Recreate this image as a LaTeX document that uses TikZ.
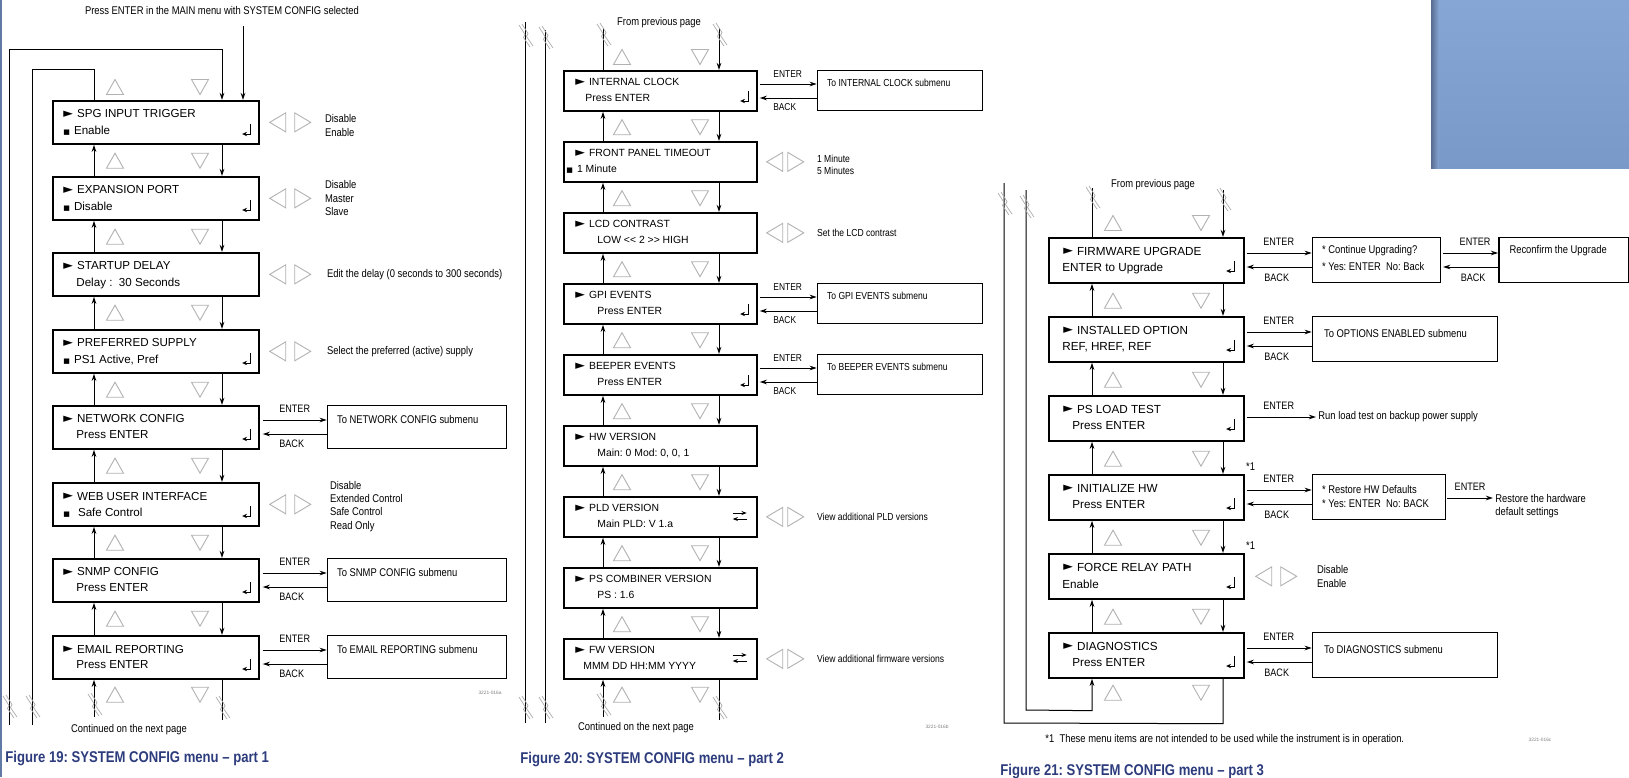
\documentclass[tikz,border=0pt]{standalone}
\usepackage{fontspec}
\setmainfont{Liberation Sans}
\newfontfamily\nar[FakeStretch=0.84]{Liberation Sans}
\newfontfamily\capf[FakeStretch=0.84]{Liberation Sans}
\newfontfamily\symf{DejaVu Sans}
\usetikzlibrary{arrows.meta}
\frenchspacing
\definecolor{capblue}{RGB}{45,60,125}
\definecolor{paneltop}{RGB}{134,166,213}
\definecolor{panelbot}{RGB}{121,154,201}
\definecolor{paneledge}{RGB}{88,108,145}
\definecolor{edgeblue}{RGB}{96,122,165}
\newcommand\ttl[1]{\raisebox{0.2pt}{\symf\fontsize{6.3}{6}\selectfont ►}\hspace{2pt}#1}
\newcommand\sq{{\symf\fontsize{3.5}{5}\selectfont ■}\hspace{2pt}}
\tikzset{
  mbox/.style={draw, line width=0.85pt, inner sep=0pt, anchor=north west},
  boxA/.style={mbox, minimum width=103pt, minimum height=21.5pt},
  boxB/.style={mbox, minimum width=96.5pt, minimum height=20pt},
  boxC/.style={mbox, minimum width=97.5pt, minimum height=22.5pt},
  tA/.style={font=\fontsize{5.8}{7}\selectfont, inner sep=0pt, anchor=west},
  tB/.style={font=\fontsize{5.2}{6}\selectfont, inner sep=0pt, anchor=west},
  tC/.style={font=\fontsize{5.85}{7}\selectfont, inner sep=0pt, anchor=west},
  oA/.style={font=\nar\fontsize{5.6}{6.7}\selectfont, inner sep=0pt, anchor=west, align=left},
  oB/.style={font=\nar\fontsize{5.1}{6}\selectfont, inner sep=0pt, anchor=west, align=left},
  lbA/.style={font=\nar\fontsize{5.4}{6}\selectfont, inner sep=0pt},
  lbB/.style={font=\nar\fontsize{5.0}{6}\selectfont, inner sep=0pt},
  cn/.style={line width=0.5pt},
  ar/.style={cn, -{Stealth[length=3.6pt,width=2.3pt]}},
  tri/.style={draw=gray!60, line width=0.45pt},
  brk/.style={draw=gray!65, line width=0.35pt},
  capt/.style={font=\capf\bfseries\fontsize{7.8}{8}\selectfont, text=capblue, inner sep=0pt, anchor=west},
  tiny/.style={font=\fontsize{2.4}{3}\selectfont, text=gray, inner sep=0pt},
  pup/.pic={\draw[tri] (-8.5,7.5) -- (8.5,7.5) -- (0,-7.5) -- cycle;},
  pdn/.pic={\draw[tri] (-8.5,-7.5) -- (8.5,-7.5) -- (0,7.5) -- cycle;},
  plt/.pic={\draw[tri] (8,-9.5) -- (8,9.5) -- (-8,0) -- cycle;},
  prt/.pic={\draw[tri] (-8,-9.5) -- (-8,9.5) -- (8,0) -- cycle;},
  pret/.pic={\draw[line width=0.45pt, -{Stealth[length=2.4pt,width=2.2pt]}] (3.5,-7) -- (3.5,3) -- (-4.5,3);},
  pswap/.pic={\draw[line width=0.5pt,-{Stealth[length=2.6pt,width=2pt]}] (-7,-3) -- (7,-3);
              \draw[line width=0.5pt,-{Stealth[length=2.6pt,width=2pt]}] (7,3) -- (-7,3);},
  pbrk/.pic={\draw[brk] (-6,-11) -- (0,-1.5) -- (-1.5,1.5) -- (5,11);
             \draw[brk] (-3,-12) -- (3,-2.5) -- (1.5,0.5) -- (8,10);},
}
\begin{document}
\begin{tikzpicture}[x=0.5pt,y=-0.5pt]
\useasboundingbox (0,0) rectangle (1629,777);
\fill[white] (0,0) rectangle (1629,777);
% decorations
\fill[top color=paneltop, bottom color=panelbot] (1431,0) rectangle (1629,168);
\fill[left color=paneledge, right color=paneltop] (1431,0) rectangle (1439,168);
\draw[edgeblue, line width=1pt] (1,0) -- (1,777);

%================ PART 1 =================
\node[oA] (Atop) at (222,10) [anchor=center] {Press ENTER in the MAIN menu with SYSTEM CONFIG selected};
\node[boxA] (A0) at (52,100) {};
\node[boxA] (A1) at (52,176) {};
\node[boxA] (A2) at (52,252) {};
\node[boxA] (A3) at (52,329) {};
\node[boxA] (A4) at (52,405) {};
\node[boxA] (A5) at (52,482) {};
\node[boxA] (A6) at (52,558) {};
\node[boxA] (A7) at (52,635) {};

\node[tA] (A0a) at ([shift={(11,14)}]A0.north west) {\ttl{SPG INPUT TRIGGER}};
\node[tA] (A0b) at ([shift={(11,31)}]A0.north west) {\sq Enable};
\node[tA] (A1a) at ([shift={(11,14)}]A1.north west) {\ttl{EXPANSION PORT}};
\node[tA] (A1b) at ([shift={(11,31)}]A1.north west) {\sq Disable};
\node[tA] (A2a) at ([shift={(11,14)}]A2.north west) {\ttl{STARTUP DELAY}};
\node[tA] (A2b) at ([shift={(24,31)}]A2.north west) {Delay :\ \ 30 Seconds};
\node[tA] (A3a) at ([shift={(11,14)}]A3.north west) {\ttl{PREFERRED SUPPLY}};
\node[tA] (A3b) at ([shift={(11,31)}]A3.north west) {\sq PS1 Active, Pref};
\node[tA] (A4a) at ([shift={(11,14)}]A4.north west) {\ttl{NETWORK CONFIG}};
\node[tA] (A4b) at ([shift={(24,30)}]A4.north west) {Press ENTER};
\node[tA] (A5a) at ([shift={(11,14)}]A5.north west) {\ttl{WEB USER INTERFACE}};
\node[tA] (A5b) at ([shift={(11,31)}]A5.north west) {\sq\hspace{2pt}Safe Control};
\node[tA] (A6a) at ([shift={(11,14)}]A6.north west) {\ttl{SNMP CONFIG}};
\node[tA] (A6b) at ([shift={(24,30)}]A6.north west) {Press ENTER};
\node[tA] (A7a) at ([shift={(11,14)}]A7.north west) {\ttl{EMAIL REPORTING}};
\node[tA] (A7b) at ([shift={(24,30)}]A7.north west) {Press ENTER};

\foreach \b in {A0,A1,A3,A4,A5,A6,A7} {\pic at ([shift={(-13,31)}]\b.north east) {pret};}
\foreach \b in {A0,A1,A2,A3,A5} {
  \pic at ([shift={(18,0)}]\b.east) {plt};
  \pic at ([shift={(43,0)}]\b.east) {prt};
}
\node[oA] (A0o) at ([shift={(65,3)}]A0.east) {Disable\\Enable};
\node[oA] (A1o) at ([shift={(65,0)}]A1.east) {Disable\\Master\\Slave};
\node[oA] (A2o) at ([shift={(67,0)}]A2.east) {Edit the delay (0 seconds to 300 seconds)};
\node[oA] (A3o) at ([shift={(67,0)}]A3.east) {Select the preferred (active) supply};
\node[oA] (A5o) at ([shift={(70,2)}]A5.east) {Disable\\Extended Control\\Safe Control\\Read Only};

\foreach \b/\s in {A4/To NETWORK CONFIG submenu, A6/To SNMP CONFIG submenu, A7/To EMAIL REPORTING submenu} {
  \node[mbox, line width=0.7pt, minimum width=89.5pt, minimum height=21.5pt] (\b s) at ([shift={(67,0)}]\b.north east) {};
  \node[oA] (\b st) at ([shift={(10,14)}]\b s.north west) {\s};
  \draw[ar] ([shift={(3,15)}]\b.north east) -- ([shift={(0,15)}]\b s.north west);
  \draw[ar] ([shift={(0,29)}]\b s.north west) -- ([shift={(3,29)}]\b.north east);
  \node[lbA] (\b e) at ([shift={(35,4)}]\b.north east) {ENTER};
  \node[lbA] (\b k) at ([shift={(32,39)}]\b.north east) {BACK};
}

\foreach \a/\b in {A0/A1,A1/A2,A2/A3,A3/A4,A4/A5,A5/A6,A6/A7} {
  \draw[ar] ([shift={(170,0)}]\a.south west) -- ([shift={(170,0)}]\b.north west);
  \draw[ar] ([shift={(42,0)}]\b.north west) -- ([shift={(42,0)}]\a.south west);
  \pic at ([shift={(63,16)}]\a.south west) {pup};
  \pic at ([shift={(148,16)}]\a.south west) {pdn};
}
\pic at ([shift={(63,-13)}]A0.north west) {pup};
\pic at ([shift={(148,-13)}]A0.north west) {pdn};
\pic at ([shift={(63,15)}]A7.south west) {pup};
\pic at ([shift={(148,15)}]A7.south west) {pdn};

\coordinate (Ain) at (243,26);
\draw[ar] (Ain) -- (Ain |- A0.north);
\coordinate (Aol) at (9,725);
\coordinate (Ail) at (32,725);
\draw[ar] (Aol) -- (9,49) -- ([shift={(170,-51)}]A0.north west) -- ([shift={(170,0)}]A0.north west);
\draw[cn] (Ail) -- (32,69) -- ([shift={(42,-31)}]A0.north west) -- ([shift={(42,0)}]A0.north west);
\coordinate (Abu) at (94,717);
\coordinate (Abd) at (222,720);
\draw[ar] (Abu) -- ([shift={(42,0)}]A7.south west);
\draw[cn] ([shift={(170,0)}]A7.south west) -- (Abd);
\pic at (9,707) {pbrk}; \pic at (32,707) {pbrk};
\pic at (94,705) {pbrk}; \pic at (222,708) {pbrk};
\node[oA] (Acont) at (129,730) [anchor=center] {Continued on the next page};
\node[tiny] (Acode) at (490,693) {3221-016a};
\node[capt] (Acap) at (5,758) {Figure 19: SYSTEM CONFIG menu – part 1};

%================ PART 2 =================
\node[oA] (Btop) at (659,23) [anchor=center] {From previous page};
\node[boxB] (B0) at (563,70) {};
\node[boxB] (B1) at (563,141) {};
\node[boxB] (B2) at (563,212) {};
\node[boxB] (B3) at (563,283) {};
\node[boxB] (B4) at (563,354) {};
\node[boxB] (B5) at (563,425) {};
\node[boxB] (B6) at (563,496) {};
\node[boxB] (B7) at (563,567) {};
\node[boxB] (B8) at (563,638) {};

\node[tB] (B0a) at ([shift={(12,12)}]B0.north west) {\ttl{INTERNAL CLOCK}};
\node[tB] (B0b) at ([shift={(22,28)}]B0.north west) {Press ENTER};
\node[tB] (B1a) at ([shift={(12,12)}]B1.north west) {\ttl{FRONT PANEL TIMEOUT}};
\node[tB] (B1b) at ([shift={(3,28)}]B1.north west) {\sq 1 Minute};
\node[tB] (B2a) at ([shift={(12,12)}]B2.north west) {\ttl{LCD CONTRAST}};
\node[tB] (B2b) at ([shift={(34,28)}]B2.north west) {LOW <{}< 2 >{}> HIGH};
\node[tB] (B3a) at ([shift={(12,12)}]B3.north west) {\ttl{GPI EVENTS}};
\node[tB] (B3b) at ([shift={(34,28)}]B3.north west) {Press ENTER};
\node[tB] (B4a) at ([shift={(12,12)}]B4.north west) {\ttl{BEEPER EVENTS}};
\node[tB] (B4b) at ([shift={(34,28)}]B4.north west) {Press ENTER};
\node[tB] (B5a) at ([shift={(12,12)}]B5.north west) {\ttl{HW VERSION}};
\node[tB] (B5b) at ([shift={(34,28)}]B5.north west) {Main: 0 Mod: 0, 0, 1};
\node[tB] (B6a) at ([shift={(12,12)}]B6.north west) {\ttl{PLD VERSION}};
\node[tB] (B6b) at ([shift={(34,28)}]B6.north west) {Main PLD: V 1.a};
\node[tB] (B7a) at ([shift={(12,12)}]B7.north west) {\ttl{PS COMBINER VERSION}};
\node[tB] (B7b) at ([shift={(34,28)}]B7.north west) {PS : 1.6};
\node[tB] (B8a) at ([shift={(12,12)}]B8.north west) {\ttl{FW VERSION}};
\node[tB] (B8b) at ([shift={(20,28)}]B8.north west) {MMM DD HH:MM YYYY};

\foreach \b in {B0,B3,B4} {\pic at ([shift={(-13,28)}]\b.north east) {pret};}
\foreach \b in {B6,B8} {\pic at ([shift={(-18,20)}]\b.north east) {pswap};}
\foreach \b in {B1,B2,B6,B8} {
  \pic at ([shift={(17,0)}]\b.east) {plt};
  \pic at ([shift={(38,0)}]\b.east) {prt};
}
\node[oB] (B1o) at ([shift={(59,3)}]B1.east) {1 Minute\\5 Minutes};
\node[oB] (B2o) at ([shift={(59,0)}]B2.east) {Set the LCD contrast};
\node[oB] (B6o) at ([shift={(59,0)}]B6.east) {View additional PLD versions};
\node[oB] (B8o) at ([shift={(59,0)}]B8.east) {View additional firmware versions};

\foreach \b/\s in {B0/To INTERNAL CLOCK submenu, B3/To GPI EVENTS submenu, B4/To BEEPER EVENTS submenu} {
  \node[mbox, line width=0.7pt, minimum width=82.5pt, minimum height=20pt] (\b s) at ([shift={(59,0)}]\b.north east) {};
  \node[oB] (\b st) at ([shift={(10,13)}]\b s.north west) {\s};
  \draw[ar] ([shift={(2,14)}]\b.north east) -- ([shift={(0,14)}]\b s.north west);
  \draw[ar] ([shift={(0,28)}]\b s.north west) -- ([shift={(2,28)}]\b.north east);
  \node[lbB] (\b e) at ([shift={(30,4)}]\b.north east) {ENTER};
  \node[lbB] (\b k) at ([shift={(27,37)}]\b.north east) {BACK};
}

\foreach \a/\b in {B0/B1,B1/B2,B2/B3,B3/B4,B4/B5,B5/B6,B6/B7,B7/B8} {
  \draw[ar] ([shift={(156,0)}]\a.south west) -- ([shift={(156,0)}]\b.north west);
  \draw[ar] ([shift={(40,0)}]\b.north west) -- ([shift={(40,0)}]\a.south west);
  \pic at ([shift={(59,15.5)}]\a.south west) {pup};
  \pic at ([shift={(137,15.5)}]\a.south west) {pdn};
}
\pic at ([shift={(59,-13)}]B0.north west) {pup};
\pic at ([shift={(137,-13)}]B0.north west) {pdn};
\pic at ([shift={(59,15)}]B8.south west) {pup};
\pic at ([shift={(137,15)}]B8.south west) {pdn};

\coordinate (Btu) at (603,28);
\coordinate (Btd) at (719,28);
\draw[cn] ([shift={(40,0)}]B0.north west) -- (Btu);
\draw[ar] (Btd) -- ([shift={(156,0)}]B0.north west);
\coordinate (Bbu) at (603,717);
\coordinate (Bbd) at (719,720);
\draw[ar] (Bbu) -- ([shift={(40,0)}]B8.south west);
\draw[cn] ([shift={(156,0)}]B8.south west) -- (Bbd);
\coordinate (Bl1a) at (525,22); \coordinate (Bl1b) at (525,723);
\coordinate (Bl2a) at (545,30); \coordinate (Bl2b) at (545,723);
\draw[cn] (Bl1a) -- (Bl1b);
\draw[cn] (Bl2a) -- (Bl2b);
\pic at (525,36) {pbrk}; \pic at (545,38) {pbrk};
\pic at (603,35) {pbrk}; \pic at (719,35) {pbrk};
\pic at (525,708) {pbrk}; \pic at (545,708) {pbrk};
\pic at (603,705) {pbrk}; \pic at (719,708) {pbrk};
\node[oA] (Bcont) at (636,728) [anchor=center] {Continued on the next page};
\node[tiny] (Bcode) at (937,727) {3221-016b};
\node[capt] (Bcap) at (520,759) {Figure 20: SYSTEM CONFIG menu – part 2};

%================ PART 3 =================
\node[oA] (Ctop) at (1153,185) [anchor=center] {From previous page};
\node[boxC] (C0) at (1048,237) {};
\node[boxC] (C1) at (1048,316) {};
\node[boxC] (C2) at (1048,395) {};
\node[boxC] (C3) at (1048,474) {};
\node[boxC] (C4) at (1048,553) {};
\node[boxC] (C5) at (1048,632) {};

\node[tC] (C0a) at ([shift={(15,14)}]C0.north west) {\ttl{FIRMWARE UPGRADE}};
\node[tC] (C0b) at ([shift={(14,31)}]C0.north west) {ENTER to Upgrade};
\node[tC] (C1a) at ([shift={(15,14)}]C1.north west) {\ttl{INSTALLED OPTION}};
\node[tC] (C1b) at ([shift={(14,31)}]C1.north west) {REF, HREF, REF};
\node[tC] (C2a) at ([shift={(15,14)}]C2.north west) {\ttl{PS LOAD TEST}};
\node[tC] (C2b) at ([shift={(24,31)}]C2.north west) {Press ENTER};
\node[tC] (C3a) at ([shift={(15,14)}]C3.north west) {\ttl{INITIALIZE HW}};
\node[tC] (C3b) at ([shift={(24,31)}]C3.north west) {Press ENTER};
\node[tC] (C4a) at ([shift={(15,14)}]C4.north west) {\ttl{FORCE RELAY PATH}};
\node[tC] (C4b) at ([shift={(14,31)}]C4.north west) {Enable};
\node[tC] (C5a) at ([shift={(15,14)}]C5.north west) {\ttl{DIAGNOSTICS}};
\node[tC] (C5b) at ([shift={(24,31)}]C5.north west) {Press ENTER};
\foreach \b in {C0,C1,C2,C3,C4,C5} {\pic at ([shift={(-14,31)}]\b.north east) {pret};}

\foreach \a/\b in {C0/C1,C1/C2,C2/C3,C3/C4,C4/C5} {
  \draw[ar] ([shift={(175,0)}]\a.south west) -- ([shift={(175,0)}]\b.north west);
  \draw[ar] ([shift={(44,0)}]\b.north west) -- ([shift={(44,0)}]\a.south west);
  \pic at ([shift={(65,17)}]\a.south west) {pup};
  \pic at ([shift={(153,17)}]\a.south west) {pdn};
}
\pic at ([shift={(65,-14)}]C0.north west) {pup};
\pic at ([shift={(153,-14)}]C0.north west) {pdn};
\pic at ([shift={(65,14)}]C5.south west) {pup};
\pic at ([shift={(153,14)}]C5.south west) {pdn};

% submenus with ENTER / BACK
\node[mbox, line width=0.7pt, minimum width=64pt, minimum height=22.5pt] (C0s) at ([shift={(67,0)}]C0.north east) {};
\node[mbox, line width=0.7pt, minimum width=65pt, minimum height=22.5pt] (C0r) at ([shift={(57,0)}]C0s.north east) {};
\node[mbox, line width=0.7pt, minimum width=92.5pt, minimum height=22.5pt] (C1s) at ([shift={(67,0)}]C1.north east) {};
\node[mbox, line width=0.7pt, minimum width=66.5pt, minimum height=22.5pt] (C3s) at ([shift={(67,0)}]C3.north east) {};
\node[mbox, line width=0.7pt, minimum width=92.5pt, minimum height=22.5pt] (C5s) at ([shift={(67,0)}]C5.north east) {};
\node[oA] (C0st) at ([shift={(10,14)}]C0s.north west) {* Continue Upgrading?};
\node[oA] (C0su) at ([shift={(10,29)}]C0s.north west) {* Yes: ENTER\ \ No: Back};
\node[oA] (C0rt) at ([shift={(11,14)}]C0r.north west) {Reconfirm the Upgrade};
\node[oA] (C1st) at ([shift={(12,17)}]C1s.north west) {To OPTIONS ENABLED submenu};
\node[oA] (C3st) at ([shift={(10,15)}]C3s.north west) {* Restore HW Defaults};
\node[oA] (C3su) at ([shift={(10,30)}]C3s.north west) {* Yes: ENTER\ \ No: BACK};
\node[oA] (C5st) at ([shift={(12,17)}]C5s.north west) {To DIAGNOSTICS submenu};

\foreach \b/\s in {C0/C0s,C1/C1s,C3/C3s,C5/C5s,C0s/C0r} {
  \draw[ar] ([shift={(2,16)}]\b.north east) -- ([shift={(0,16)}]\s.north west);
  \draw[ar] ([shift={(0,30)}]\s.north west) -- ([shift={(2,30)}]\b.north east);
  \node[lbA] (\b e) at ([shift={(34,5)}]\b.north east) {ENTER};
  \node[lbA] (\b k) at ([shift={(32,41)}]\b.north east) {BACK};
}
% PS load test
\coordinate (C2x) at (1316,417);
\draw[ar] ([shift={(2,22)}]C2.north east) -- (C2x);
\node[lbA] (C2e) at ([shift={(34,11)}]C2.north east) {ENTER};
\node[oA] (C2t) at (1318,417) {Run load test on backup power supply};
% Initialize second enter
\coordinate (C3x) at (1493,498);
\draw[ar] ([shift={(1,24)}]C3s.north east) -- (C3x);
\node[lbA] (C3e2) at ([shift={(24,13)}]C3s.north east) {ENTER};
\node[oA] (C3t) at (1495,506) {Restore the hardware\\default settings};
% footnote marks
\node[oA] (C3m) at ([shift={(1,-7)}]C3.north east) {*1};
\node[oA] (C4m) at ([shift={(1,-7)}]C4.north east) {*1};
% force relay
\pic at ([shift={(19,0)}]C4.east) {plt};
\pic at ([shift={(44,0)}]C4.east) {prt};
\node[oA] (C4o) at ([shift={(72,0)}]C4.east) {Disable\\Enable};

% top and bottom of part 3
\coordinate (Ctu) at (1092,188);
\coordinate (Ctd) at (1223,190);
\draw[cn] ([shift={(44,0)}]C0.north west) -- (Ctu);
\draw[ar] (Ctd) -- ([shift={(175,0)}]C0.north west);
\coordinate (Cl1) at (1004,183);
\coordinate (Cl2) at (1026,190);
\draw[ar] (Cl2) -- (1026,710) -- ([shift={(44,32)}]C5.south west) -- ([shift={(44,0)}]C5.south west);
\draw[cn] ([shift={(175,0)}]C5.south west) -- ([shift={(175,45)}]C5.south west) -- (1004,723) -- (Cl1);
\pic at (1004,204) {pbrk}; \pic at (1026,207) {pbrk};
\pic at (1092,198) {pbrk}; \pic at (1223,200) {pbrk};
\node[oA] (Cfoot) at (1045,740) {*1\ \ These menu items are not intended to be used while the instrument is in operation.};
\node[tiny] (Ccode) at (1540,740) {3221-016c};
\node[capt] (Ccap) at (1000,771) {Figure 21: SYSTEM CONFIG menu – part 3};
\end{tikzpicture}
\end{document}
